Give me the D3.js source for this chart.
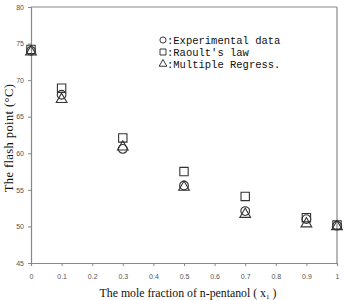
<!DOCTYPE html>
<html>
<head>
<meta charset="utf-8">
<script src="https://cdn.jsdelivr.net/npm/d3@7"></script>
<style>
  body { margin: 0; background: #fff; }
  svg { display: block; }
</style>
</head>
<body>
<div id="chart"></div>
<script>
// ── Data ─────────────────────────────────────────────────────
const moleFraction = [0, 0.1, 0.3, 0.5, 0.7, 0.9, 1.0];
const experimental = [74.0, 68.0, 60.6, 55.6, 52.1, 51.0, 50.1];
const raoult       = [74.2, 68.9, 62.1, 57.5, 54.1, 51.2, 50.2];
const regression   = [74.0, 67.5, 61.0, 55.5, 51.8, 50.5, 50.1];

const xTicks = [0, 0.1, 0.2, 0.3, 0.4, 0.5, 0.6, 0.7, 0.8, 0.9, 1];
const yTicks = [45, 50, 55, 60, 65, 70, 75, 80];

const legendItems = [
  { shape: 'circle',   label: ':Experimental data' },
  { shape: 'square',   label: ":Raoult's law" },
  { shape: 'triangle', label: ':Multiple Regress.' },
];

// ── Layout ───────────────────────────────────────────────────
const width = 344, height = 300;
const margin = { top: 7, right: 7, bottom: 37, left: 31 };
const innerW = width - margin.left - margin.right;
const innerH = height - margin.top - margin.bottom;

const svg = d3.select('#chart').append('svg')
  .attr('width', width)
  .attr('height', height);

const g = svg.append('g')
  .attr('transform', `translate(${margin.left},${margin.top})`);

const x = d3.scaleLinear().domain([0, 1]).range([0, innerW]);
const y = d3.scaleLinear().domain([45, 80]).range([innerH, 0]);

const axisColor = '#888';
const tickFont = '"Liberation Sans Narrow", "Liberation Sans", Arial, sans-serif';

// frame (top + right)
g.append('line').attr('x1', 0).attr('x2', innerW).attr('y1', 0).attr('y2', 0)
  .attr('stroke', axisColor).attr('stroke-width', 1.2);
g.append('line').attr('x1', innerW).attr('x2', innerW).attr('y1', 0).attr('y2', innerH)
  .attr('stroke', axisColor).attr('stroke-width', 1.2);

// ── Axes ─────────────────────────────────────────────────────
const xAxis = g.append('g')
  .attr('transform', `translate(0,${innerH})`)
  .call(d3.axisBottom(x).tickValues(xTicks).tickSize(3).tickPadding(8)
    .tickFormat(d => d === 0 ? '0' : d === 1 ? '1' : d3.format('.1f')(d)));

const yAxis = g.append('g')
  .call(d3.axisLeft(y).tickValues(yTicks).tickSize(3).tickPadding(4));

[xAxis, yAxis].forEach(a => {
  a.select('.domain').attr('stroke', axisColor).attr('stroke-width', 1.2);
  a.selectAll('.tick line').attr('stroke', axisColor);
  a.selectAll('.tick text')
    .attr('fill', '#555')
    .attr('font-size', 7)
    .attr('font-family', tickFont);
});

// ── Markers ──────────────────────────────────────────────────
const markColor = '#333';
const sym = {
  circle:   d3.symbol().type(d3.symbolCircle).size(60),
  square:   d3.symbol().type(d3.symbolSquare).size(70),
  triangle: d3.symbol().type(d3.symbolTriangle).size(50),
};

function drawSeries(values, shape) {
  g.append('g').selectAll('path')
    .data(moleFraction.map((m, i) => ({ m, v: values[i] })))
    .join('path')
    .attr('d', sym[shape]())
    .attr('transform', d => `translate(${x(d.m)},${y(d.v) + (shape === 'triangle' ? 1 : 0)})`)
    .attr('fill', 'none')
    .attr('stroke', markColor)
    .attr('stroke-width', 1.1);
}

drawSeries(raoult, 'square');
drawSeries(experimental, 'circle');
drawSeries(regression, 'triangle');

// ── Legend ───────────────────────────────────────────────────
const legend = g.append('g').attr('transform', `translate(${163 - margin.left},${40 - margin.top})`);
const legendSym = {
  circle:   d3.symbol().type(d3.symbolCircle).size(30),
  square:   d3.symbol().type(d3.symbolSquare).size(36),
  triangle: d3.symbol().type(d3.symbolTriangle).size(26),
};
legendItems.forEach((it, i) => {
  const row = legend.append('g').attr('transform', `translate(0,${i * 12})`);
  row.append('path')
    .attr('d', legendSym[it.shape]())
    .attr('fill', 'none')
    .attr('stroke', '#222')
    .attr('stroke-width', 0.9);
  row.append('text')
    .attr('x', 4)
    .attr('dy', '0.35em')
    .attr('font-size', 10.5)
    .attr('font-family', '"Liberation Mono", "DejaVu Sans Mono", monospace')
    .attr('fill', '#111')
    .text(it.label);
});

// ── Axis titles ──────────────────────────────────────────────
const xTitle = svg.append('text')
  .attr('x', 188)
  .attr('y', 297)
  .attr('text-anchor', 'middle')
  .attr('font-family', '"Liberation Serif", "Times New Roman", serif')
  .attr('font-size', 11.8)
  .attr('fill', '#111');
xTitle.append('tspan').text('The mole fraction of n-pentanol ( x');
xTitle.append('tspan').attr('font-size', 7).attr('dy', 2).text('1');
xTitle.append('tspan').attr('dy', -2).text(' )');

svg.append('text')
  .attr('transform', `translate(13,138) rotate(-90)`)
  .attr('text-anchor', 'middle')
  .attr('font-family', '"Liberation Serif", "Times New Roman", serif')
  .attr('font-size', 12.5)
  .attr('letter-spacing', 0.4)
  .attr('fill', '#111')
  .text('The flash point  (\u00B0C)');
</script>
</body>
</html>
